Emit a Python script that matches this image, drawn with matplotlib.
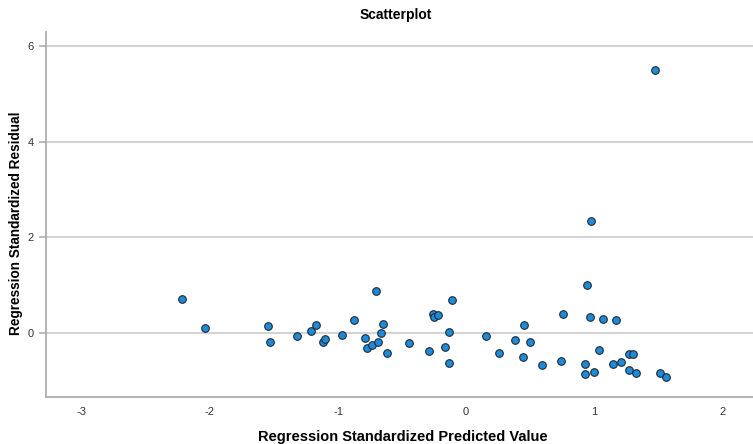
import matplotlib
matplotlib.use("Agg")
import matplotlib.pyplot as plt

plt.rcParams['font.family'] = ['Liberation Sans', 'DejaVu Sans']

predicted = [-2.221, -2.041, -1.547, -1.529, -1.320, -1.211, -1.170, -1.121, -1.102, -0.966,
             -0.877, -0.787, -0.771, -0.732, -0.690, -0.666, -0.648, -0.701, -0.620, -0.445,
             -0.291, -0.260, -0.252, -0.221, -0.107, -0.133, -0.166, -0.133, 0.159, 0.255,
             0.385, 0.455, 0.445, 0.502, 0.591, 0.740, 0.760, 0.945, 0.977, 0.971,
             1.068, 1.170, 0.927, 0.927, 1.000, 1.039, 1.146, 1.209, 1.271, 1.305,
             1.273, 1.330, 1.513, 1.563, 1.474]
residual = [0.695, 0.105, 0.147, -0.196, -0.063, 0.036, 0.156, -0.196, -0.139, -0.042,
            0.261, -0.105, -0.316, -0.259, -0.196, -0.006, 0.189, 0.872, -0.421, -0.211,
            -0.392, 0.394, 0.324, 0.379, 0.674, 0.021, -0.307, -0.644, -0.076, -0.434,
            -0.147, 0.162, -0.505, -0.189, -0.680, -0.602, 0.394, 1.004, 2.331, 0.331,
            0.295, 0.267, -0.659, -0.863, -0.821, -0.364, -0.659, -0.617, -0.442, -0.448,
            -0.779, -0.855, -0.848, -0.933, 5.509]

x_ticks = [-3, -2, -1, 0, 1, 2]
y_ticks = [0, 2, 4, 6]

fig = plt.figure(figsize=(7.53, 4.44), dpi=100)
ax = fig.add_axes([46/753, 47/444, 1 - 46/753, (397-32)/444])

ax.set_xlim(-3.28, 2.24)
ax.set_ylim(-1.35, 6.30)

for y in y_ticks:
    ax.axhline(y, color='#d4d4d4', lw=1.5, zorder=1)

ax.scatter(predicted, residual, s=30, facecolor='#1f8ad8', edgecolor='#1c2a38',
           linewidths=0.8, zorder=3)

ax.set_xticks(x_ticks)
ax.set_yticks(y_ticks)
ax.set_xticklabels([str(v) for v in x_ticks])
ax.set_yticklabels([str(v) for v in y_ticks])
ax.tick_params(axis='x', length=0, pad=7, labelsize=8, colors='#333333')
ax.tick_params(axis='y', length=5, width=1.2, color='#b0b0b0', pad=4, labelsize=8, labelcolor='#333333')

for s in ['top', 'right']:
    ax.spines[s].set_visible(False)
for s in ['left', 'bottom']:
    ax.spines[s].set_color('#a8a8a8')
    ax.spines[s].set_linewidth(1.2)

xl = ax.set_xlabel('Regression Standardized Predicted Value', fontsize=10.5, fontweight='bold')
yl = ax.set_ylabel('Regression Standardized Residual', fontsize=9.8, fontweight='bold')
xl.set_va('center')
yl.set_va('center')
ax.xaxis.set_label_coords(0.505, -40/365)
ax.yaxis.set_label_coords(-30/707, (397-223)/365)
fig.text(0.525, 1 - 15/444, 'Scatterplot', ha='center', va='center',
         fontsize=10, fontweight='bold')

fig.savefig('out.png', dpi=100, facecolor='white')
